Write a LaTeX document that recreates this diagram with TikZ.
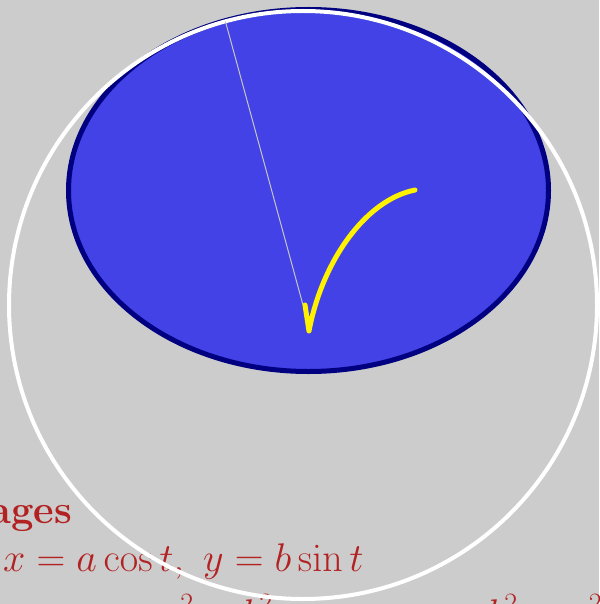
\RequirePackage{fix-cm}
\documentclass[tikz,border=0pt]{standalone}
\usetikzlibrary{calc}
\definecolor{panelgray}{HTML}{CCCCCC}
\definecolor{ellfill}{HTML}{4242E6}
\definecolor{ellline}{HTML}{000080}
\definecolor{textred}{HTML}{B22222}
\tikzset{
  panel/.style = {fill=panelgray},
  ellbody/.style = {draw=ellline, line width=5pt, fill=ellfill},
  ring/.style = {draw=white, line width=4pt},
  radline/.style = {draw=gray!45, line width=1pt},
  hook/.style = {draw=yellow, line width=5pt, line cap=round, line join=round},
  caption/.style = {
    text=textred, inner sep=0pt, anchor=base west,
    font=\fontsize{40}{48}\selectfont
  }
}

\begin{document}
\begin{tikzpicture}[x=1pt, y=-1pt]

    % ------------------------------------------------------------- Frame
    \useasboundingbox (0,0) rectangle (599,604);
    \fill [panel] (0,0) rectangle (599,604);

    % ------------------------------------------------------------- Points
    \coordinate (ellc)     at (308.5,190.5);
    \coordinate (ringc)    at (303,305);
    \coordinate (hooktop)  at (305,305);
    \coordinate (hookbase) at (309,331);
    \coordinate (hookend)  at (415,190);
    \path (ringc) ++(105.3:294pt) coordinate (rimpt);

    % ------------------------------------------------------------- Text
    \node [caption, anchor=base east] (heading) at (72,523) {\bfseries ages};
    \node [caption] (paramline) at (3,571) {$x = a\cos t,\ y = b\sin t$};
    \node [caption] (cutline)   at (158,627)
      {$x^{2} - b^{2} = m - n,\quad b^{2} - x^{2} = n - m$};

    % ------------------------------------------------------------- Shapes
    \draw [ellbody] (ellc) ellipse [x radius=240pt, y radius=181pt];
    \draw [ring] (ringc) circle [radius=294pt];
    \draw [radline] (ringc) -- (rimpt);
    \draw [hook] (hooktop) -- (hookbase)
      .. controls (322,262) and (365,200) .. (hookend);

\end{tikzpicture}
\end{document}
